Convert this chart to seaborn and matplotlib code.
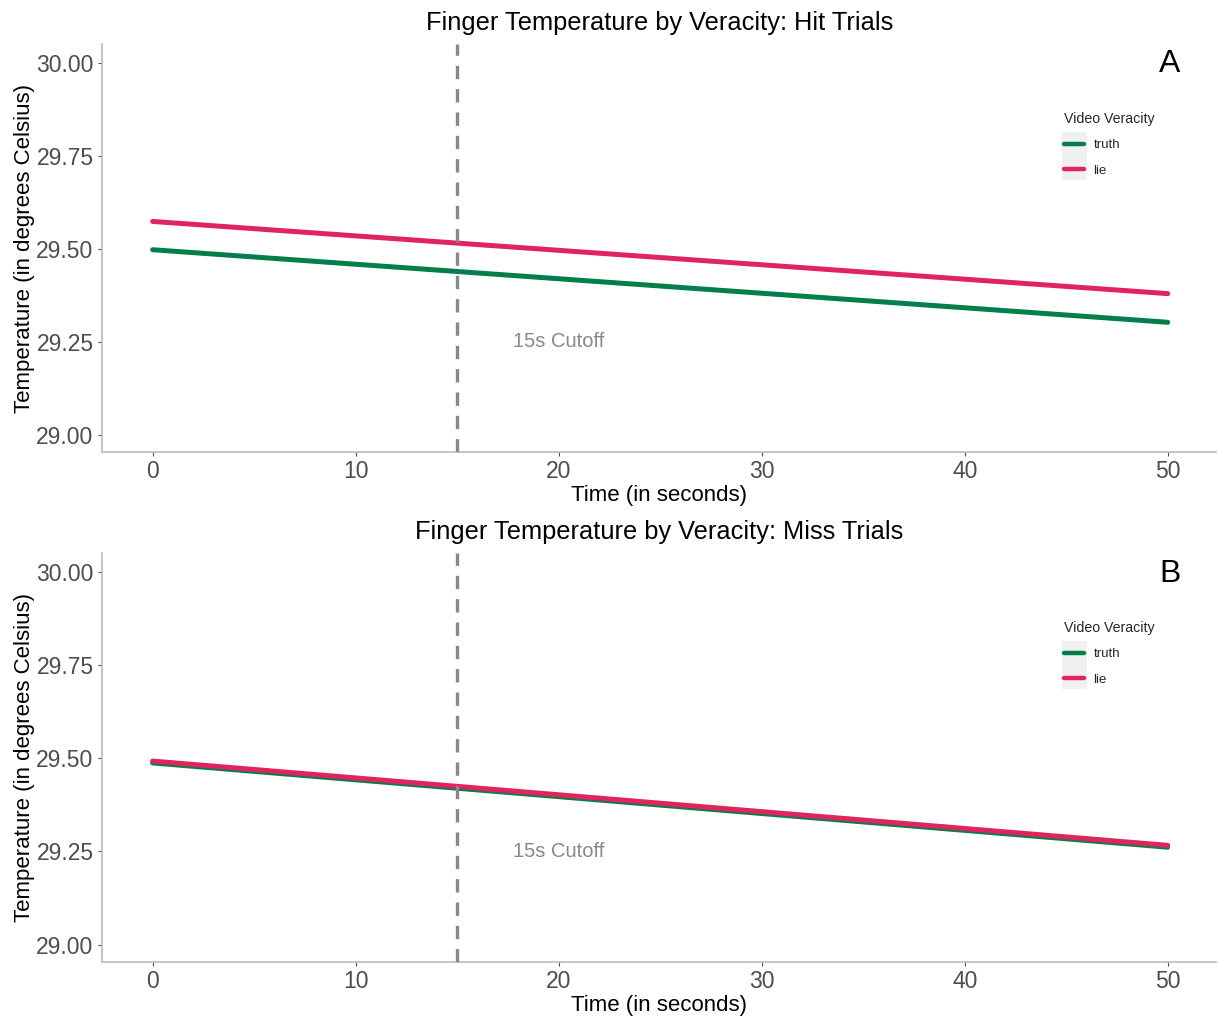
import pandas as pd
import matplotlib.pyplot as plt
import seaborn as sns
from matplotlib.patches import Rectangle

# data (straight fitted lines, endpoints only)
time_s = [0, 50]
hit_truth = [29.497, 29.302]
hit_lie = [29.573, 29.379]
miss_truth = [29.487, 29.261]
miss_lie = [29.492, 29.266]
veracity = ["truth", "lie"]
palette = {"truth": "#007F4A", "lie": "#E0245E"}
y_ticks = [29.00, 29.25, 29.50, 29.75, 30.00]
x_ticks = [0, 10, 20, 30, 40, 50]
cutoff = 15

panels = [
    ("Finger Temperature by Veracity: Hit Trials", "A", hit_truth, hit_lie),
    ("Finger Temperature by Veracity: Miss Trials", "B", miss_truth, miss_lie),
]

sns.set_style("white")
plt.rcParams["font.family"] = ["Liberation Sans", "DejaVu Sans"]

fig = plt.figure(figsize=(12.18, 10.16), dpi=100)
boxes = [[0.0837, 0.555, 0.915, 0.4017], [0.0837, 0.0531, 0.915, 0.4026]]

for (title, letter, truth, lie), box in zip(panels, boxes):
    ax = fig.add_axes(box)
    df = pd.DataFrame({
        "Time": time_s * 2,
        "Temp": truth + lie,
        "Video Veracity": ["truth"] * len(time_s) + ["lie"] * len(time_s),
    })
    sns.lineplot(data=df, x="Time", y="Temp", hue="Video Veracity",
                 hue_order=veracity, palette=palette, linewidth=3.6, ax=ax)
    ax.axvline(cutoff, color="#888888", linestyle=(0, (4, 3)), linewidth=2.4, zorder=3)
    ax.text(20, 29.25, "15s Cutoff", color="#888888", fontsize=14.5,
            ha="center", va="center")
    ax.text(50.1, 29.995, letter, fontsize=23, color="black", ha="center", va="center")

    ax.set_xlim(-2.5, 52.4)
    ax.set_ylim(28.953, 30.05)
    ax.set_xticks(x_ticks)
    ax.set_yticks(y_ticks)
    ax.set_yticklabels([f"{v:.2f}" for v in y_ticks])
    ax.tick_params(axis="both", labelsize=16.5, labelcolor="#4D4D4D",
                   color="#4D4D4D", length=3, width=0.8, direction="out",
                   left=True, bottom=True, pad=3)
    for side in ["top", "right"]:
        ax.spines[side].set_visible(False)
    for side in ["left", "bottom"]:
        ax.spines[side].set_color("#BBBBBB")
        ax.spines[side].set_linewidth(1.2)
    ax.set_xlabel("Time (in seconds)", fontsize=16, color="black", labelpad=1)
    ax.set_ylabel("Temperature (in degrees Celsius)", fontsize=16,
                  color="black", labelpad=1)
    ax.set_title(title, fontsize=18.3, color="black", pad=10)

    # grey key background like ggplot's legend keys
    ax.add_patch(Rectangle((0.861, 0.667), 0.0233, 0.117, transform=ax.transAxes,
                           facecolor="#F0F0F0", edgecolor="none", zorder=1))
    leg = ax.legend(title="Video Veracity", loc="upper left",
                    bbox_to_anchor=(0.853, 0.862), frameon=False,
                    fontsize=9.5, title_fontsize=10.2, handlelength=1.5,
                    handletextpad=0.7, labelspacing=0.98)
    leg._legend_box.align = "left"
    for line in leg.get_lines():
        line.set_linewidth(3.2)

fig.savefig("out.png", dpi=100)
